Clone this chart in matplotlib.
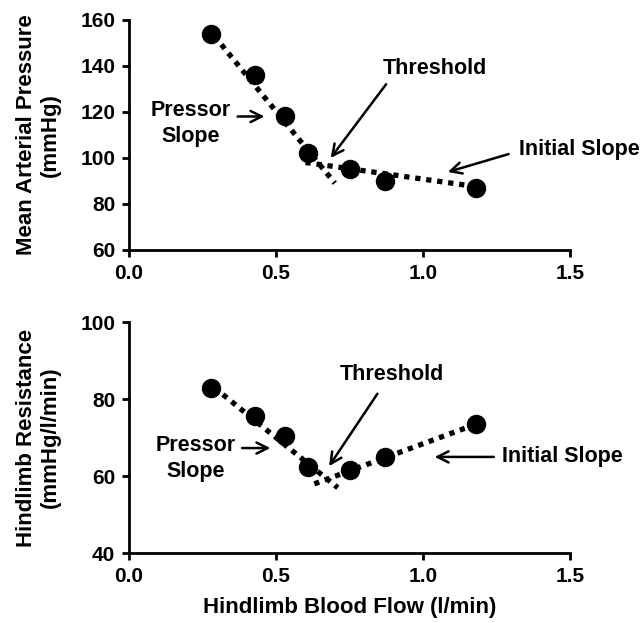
import matplotlib
matplotlib.use("Agg")
import matplotlib.pyplot as plt

plt.rcParams['font.family'] = ['Liberation Sans', 'DejaVu Sans']
plt.rcParams['font.weight'] = 'bold'

flow = [0.28, 0.43, 0.53, 0.61, 0.75, 0.87, 1.18]
map_vals = [154, 136, 118, 102, 95, 90, 87]
res_vals = [83, 75.5, 70.5, 62.5, 61.5, 65, 73.5]

# regression line endpoints (x, y)
map_pressor_x = [0.29, 0.70]
map_pressor_y = [153, 89]
map_initial_x = [0.60, 1.18]
map_initial_y = [98, 87.5]
res_pressor_x = [0.29, 0.71]
res_pressor_y = [83, 57]
res_initial_x = [0.63, 1.18]
res_initial_y = [58, 73.5]

xticks = [0.0, 0.5, 1.0, 1.5]
map_yticks = [60, 80, 100, 120, 140, 160]
res_yticks = [40, 60, 80, 100]

fig = plt.figure(figsize=(6.42, 6.23), dpi=100)
ax1 = fig.add_axes([0.201, 0.599, 0.687, 0.369])
ax2 = fig.add_axes([0.201, 0.112, 0.687, 0.371])

def style(ax, yticks):
    for s in ['top', 'right']:
        ax.spines[s].set_visible(False)
    for s in ['left', 'bottom']:
        ax.spines[s].set_linewidth(2)
    ax.set_xlim(0, 1.5)
    ax.set_ylim(yticks[0], yticks[-1])
    ax.set_xticks(xticks)
    ax.set_xticklabels([f"{t:.1f}" for t in xticks])
    ax.set_yticks(yticks)
    ax.tick_params(direction='out', length=5, width=2, labelsize=15, pad=5)
    for lbl in ax.get_xticklabels() + ax.get_yticklabels():
        lbl.set_fontweight('bold')

style(ax1, map_yticks)
style(ax2, res_yticks)

fs = 15.5
lfs = 16
dot = dict(ls=(0, (1, 1.1)), color='black', lw=3.8, zorder=2, dash_capstyle='butt')
arr = dict(arrowstyle='->', lw=1.8, color='black', mutation_scale=20)

ax1.plot(map_pressor_x, map_pressor_y, **dot)
ax1.plot(map_initial_x, map_initial_y, **dot)
ax1.plot(flow, map_vals, 'o', color='black', ms=13, zorder=3)
ax1.set_ylabel("Mean Arterial Pressure\n(mmHg)", fontsize=lfs, fontweight='bold', labelpad=14)

ax1.annotate("", xy=(0.68, 99), xytext=(0.88, 133), arrowprops=arr)
ax1.text(1.04, 139, "Threshold", ha='center', va='center', fontsize=fs, fontweight='bold')
ax1.text(0.21, 120.5, "Pressor", ha='center', va='center', fontsize=fs, fontweight='bold')
ax1.text(0.21, 109.5, "Slope", ha='center', va='center', fontsize=fs, fontweight='bold')
ax1.annotate("", xy=(0.47, 118), xytext=(0.36, 118), arrowprops=arr)
ax1.text(1.53, 103.5, "Initial Slope", ha='center', va='center', fontsize=fs,
         fontweight='bold', clip_on=False)
ax1.annotate("", xy=(1.075, 93.5), xytext=(1.30, 102), arrowprops=arr)

ax2.plot(res_pressor_x, res_pressor_y, **dot)
ax2.plot(res_initial_x, res_initial_y, **dot)
ax2.plot(flow, res_vals, 'o', color='black', ms=13, zorder=3)
ax2.set_ylabel("Hindlimb Resistance\n(mmHg/l/min)", fontsize=lfs, fontweight='bold', labelpad=14)
ax2.set_xlabel("Hindlimb Blood Flow (l/min)", fontsize=lfs, fontweight='bold', labelpad=8)

ax2.annotate("", xy=(0.675, 62), xytext=(0.85, 82), arrowprops=arr)
ax2.text(0.895, 86.5, "Threshold", ha='center', va='center', fontsize=fs, fontweight='bold')
ax2.text(0.225, 68, "Pressor", ha='center', va='center', fontsize=fs, fontweight='bold')
ax2.text(0.225, 61.3, "Slope", ha='center', va='center', fontsize=fs, fontweight='bold')
ax2.annotate("", xy=(0.49, 67.3), xytext=(0.375, 67.3), arrowprops=arr)
ax2.text(1.475, 65, "Initial Slope", ha='center', va='center', fontsize=fs,
         fontweight='bold', clip_on=False)
ax2.annotate("", xy=(1.03, 65), xytext=(1.25, 65), arrowprops=arr)

fig.savefig("out.png", dpi=100)
